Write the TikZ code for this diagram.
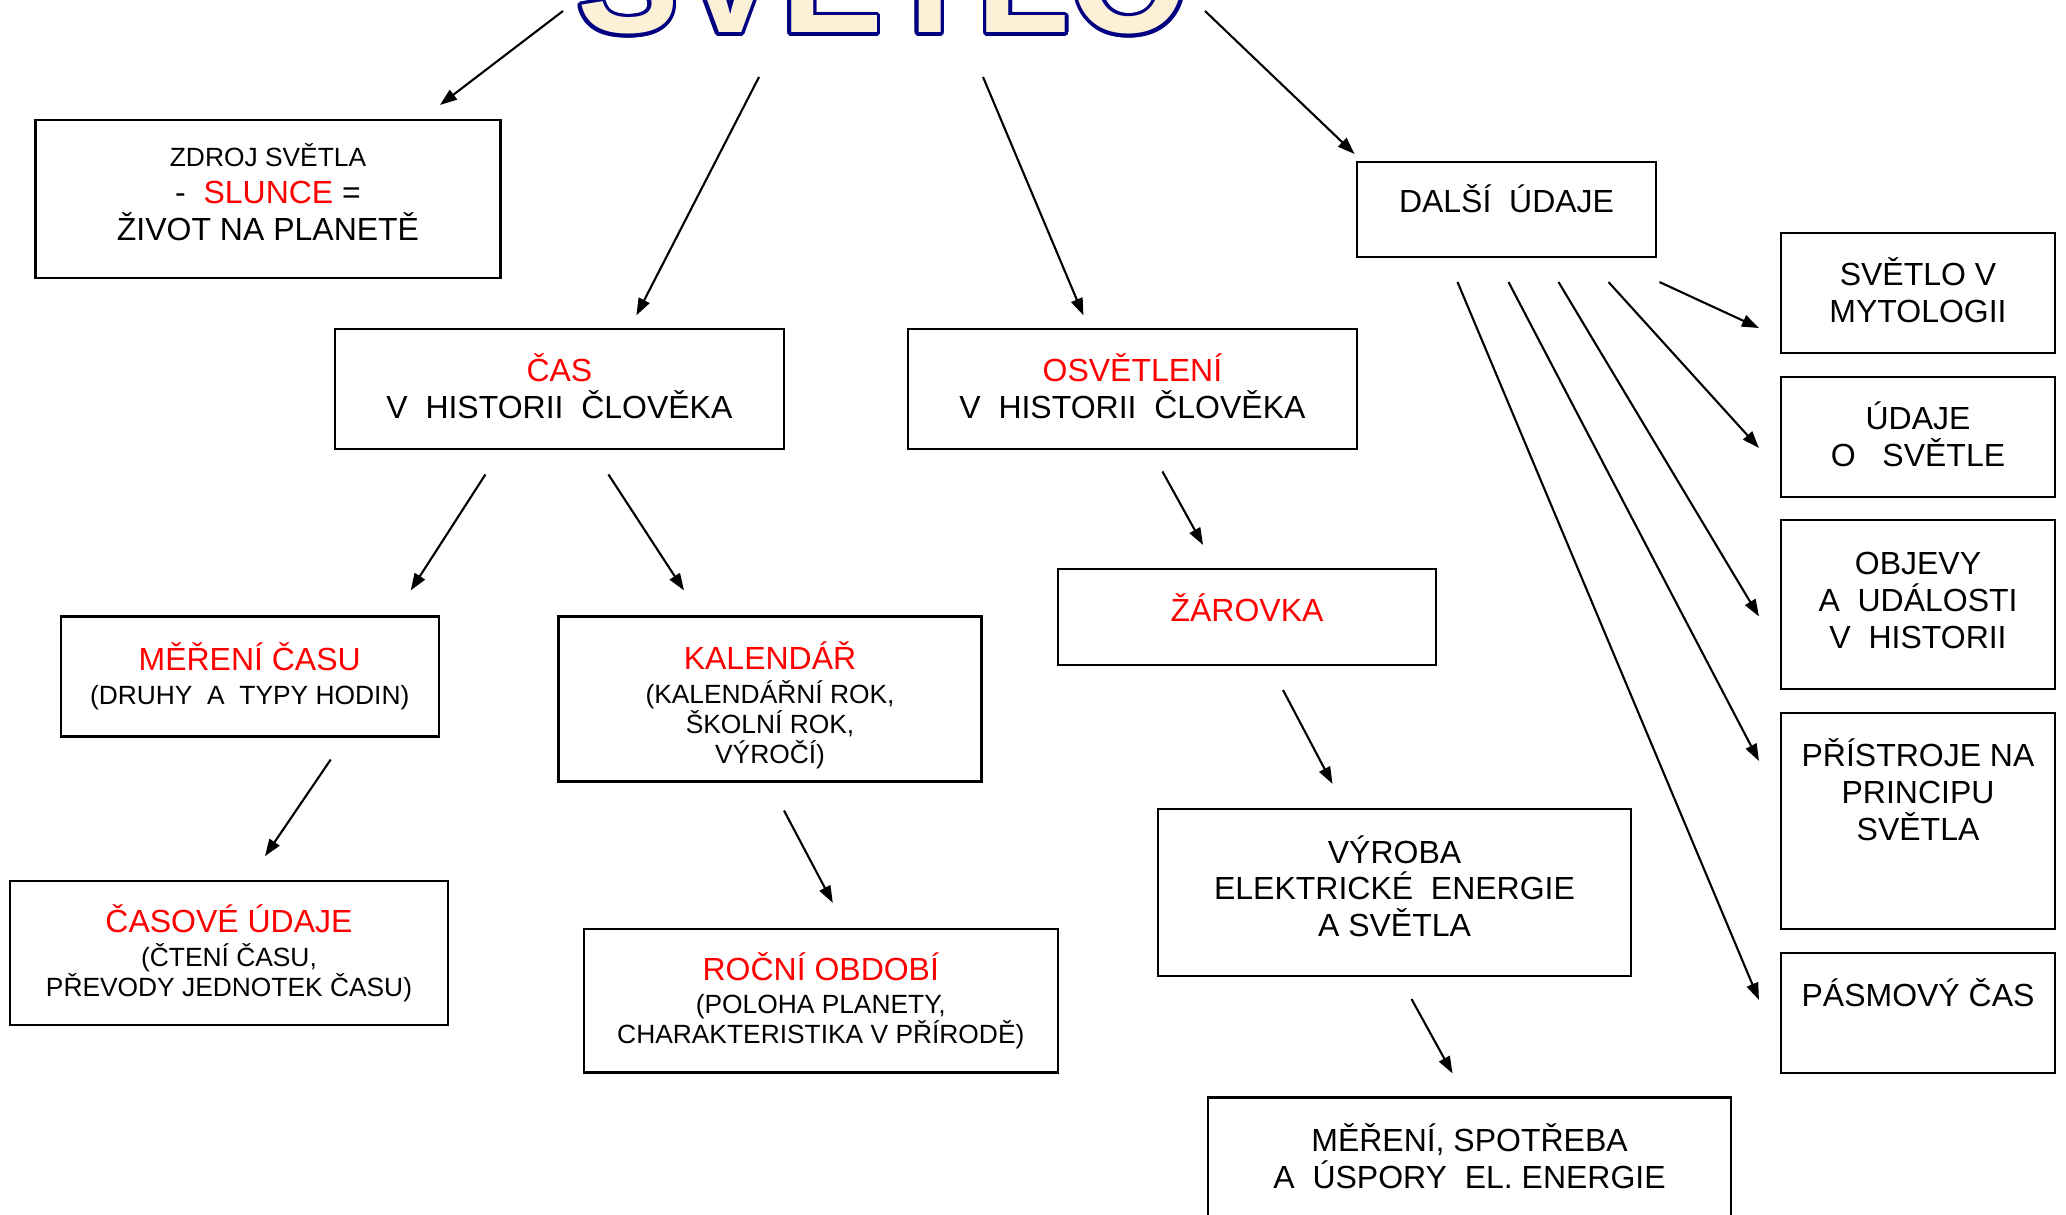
\documentclass[tikz,border=0pt]{standalone}
\usepackage{fontspec}
\setmainfont{Liberation Sans}
\usetikzlibrary{arrows.meta,calc}

\definecolor{navy}{RGB}{0,0,128}
\definecolor{cream}{RGB}{252,241,215}
\newcommand\mainsz{\fontsize{9.1pt}{10.5pt}\selectfont}
\newcommand\smallsz{\fontsize{7.5pt}{8.5pt}\selectfont}
\newcommand\titlesz{\fontsize{43.5pt}{50pt}\selectfont\bfseries}

\begin{document}
\begin{tikzpicture}[x=0.1mm,y=-0.1mm,
    box/.style={draw,line width=0.6pt,align=center,font=\mainsz,inner sep=0pt},
    smallbox/.style={box,font=\smallsz},
    arr/.style={-{Triangle[length=1.7mm,width=1.2mm]},line width=0.6pt}]
   \useasboundingbox (0,0) rectangle (2066,1215);

   % title
   \foreach \a in {0,22.5,...,337.5}
      \node[font=\titlesz,text=navy,anchor=base] at ($(883,33)+(\a:3.5)$) {SVĚTLO};
   \node[font=\titlesz,text=cream,anchor=base] (svetlo) at (883,33) {SVĚTLO};

   % boxes
   \node[box,minimum width=46.5mm,minimum height=15.8mm] (zdroj) at (268,199)
      {{\smallsz ZDROJ SVĚTLA}\\-~ \textcolor{red}{SLUNCE} =\\ŽIVOT NA PLANETĚ\\[-2.3mm]~};
   \node[box,minimum width=44.9mm,minimum height=12mm] (cas) at (559.4,389.4)
      {\textcolor{red}{ČAS}\\V~ HISTORII~ ČLOVĚKA\\[-3.1mm]~};
   \node[box,minimum width=44.9mm,minimum height=12mm] (osv) at (1132.4,389.4)
      {\textcolor{red}{OSVĚTLENÍ}\\V~ HISTORII~ ČLOVĚKA\\[-3.1mm]~};
   \node[box,minimum width=29.9mm,minimum height=9.5mm] (dalsi) at (1506.5,209.5)
      {DALŠÍ~ ÚDAJE\\[-1.5mm]~};
   \node[box,minimum width=27.4mm,minimum height=12mm] (myt) at (1918,293)
      {SVĚTLO V\\MYTOLOGII\\[-3.1mm]~};
   \node[box,minimum width=27.4mm,minimum height=12mm] (udaje) at (1918,437)
      {ÚDAJE\\O~~ SVĚTLE\\[-3.1mm]~};
   \node[box,minimum width=27.4mm,minimum height=16.9mm] (objevy) at (1918,604.5)
      {OBJEVY\\A~ UDÁLOSTI\\V~ HISTORII\\[-2.9mm]~};
   \node[box,minimum width=27.4mm,minimum height=21.6mm] (pristroje) at (1918,821)
      {PŘÍSTROJE NA\\PRINCIPU\\SVĚTLA\\[2.6mm]~};
   \node[box,minimum width=27.4mm,minimum height=12mm] (pasmovy) at (1918,1013)
      {PÁSMOVÝ ČAS\\[0.5mm]~};
   \node[smallbox,minimum width=37.8mm,minimum height=12mm] (mereni) at (249.7,676.5)
      {{\mainsz\textcolor{red}{MĚŘENÍ ČASU}}\\[0.4mm](DRUHY~ A~ TYPY HODIN)};
   \node[smallbox,minimum width=42.3mm,minimum height=16.5mm] (kal) at (770,699)
      {~\\[1.05mm]{\mainsz\textcolor{red}{KALENDÁŘ}}\\[0.4mm](KALENDÁŘNÍ ROK,\\ŠKOLNÍ ROK,\\VÝROČÍ)};
   \node[smallbox,minimum width=43.75mm,minimum height=14.35mm] (casove) at (229,953)
      {{\mainsz\textcolor{red}{ČASOVÉ ÚDAJE}}\\[0.4mm](ČTENÍ ČASU,\\PŘEVODY JEDNOTEK ČASU)};
   \node[smallbox,minimum width=47.4mm,minimum height=14.35mm] (rocni) at (820.8,1000.7)
      {{\mainsz\textcolor{red}{ROČNÍ OBDOBÍ}}\\[0.4mm](POLOHA PLANETY,\\CHARAKTERISTIKA V PŘÍRODĚ)};
   \node[box,minimum width=37.8mm,minimum height=9.6mm] (zar) at (1247,617)
      {\textcolor{red}{ŽÁROVKA}\\[-1.7mm]~};
   \node[box,minimum width=47.3mm,minimum height=16.7mm] (vyr) at (1394.5,892.5)
      {VÝROBA\\ELEKTRICKÉ~ ENERGIE\\A SVĚTLA\\[-2.4mm]~};
   \node[box,minimum width=52.3mm,minimum height=13mm] (spot) at (1469.5,1162.5)
      {MĚŘENÍ, SPOTŘEBA\\A~ ÚSPORY~ EL. ENERGIE\\[-2.4mm]~};

   % arrows
   \draw[arr] ($(svetlo.base)+(-320,-22)$) -- ($(zdroj.north)+(172,-14)$);
   \draw[arr] ($(svetlo.base)+(-124,44)$) -- ($(cas.north)+(77,-13)$);
   \draw[arr] ($(svetlo.base)+(100,44)$) -- ($(osv.north)+(-49,-13)$);
   \draw[arr] ($(svetlo.base)+(322,-22)$) -- ($(dalsi.north)+(-152,-7)$);
   \draw[arr] ($(cas.south)+(-74,24)$) -- ($(mereni.north)+(161,-25)$);
   \draw[arr] ($(cas.south)+(49,24)$) -- ($(kal.north)+(-86,-25)$);
   \draw[arr] ($(mereni.south)+(81,22)$) -- ($(casove.north)+(36,-24)$);
   \draw[arr] ($(kal.south)+(14,28)$) -- ($(rocni.north)+(12,-25)$);
   \draw[arr] ($(osv.south)+(30,21)$) -- ($(zar.north)+(-44,-23)$);
   \draw[arr] ($(zar.south)+(36,24)$) -- ($(vyr.north)+(-62,-24)$);
   \draw[arr] ($(vyr.south)+(17,22)$) -- ($(spot.north)+(-17,-23)$);
   \draw[arr] ($(dalsi.south)+(153,24)$) -- ($(myt.west)+(-21,35)$);
   \draw[arr] ($(dalsi.south)+(102,24)$) -- ($(udaje.west)+(-21,11)$);
   \draw[arr] ($(dalsi.south)+(52,24)$) -- ($(objevy.west)+(-21,12)$);
   \draw[arr] ($(dalsi.south)+(2,24)$) -- ($(pristroje.west)+(-21,-60)$);
   \draw[arr] ($(dalsi.south)+(-49,24)$) -- ($(pasmovy.west)+(-21,-13)$);
\end{tikzpicture}
\end{document}
